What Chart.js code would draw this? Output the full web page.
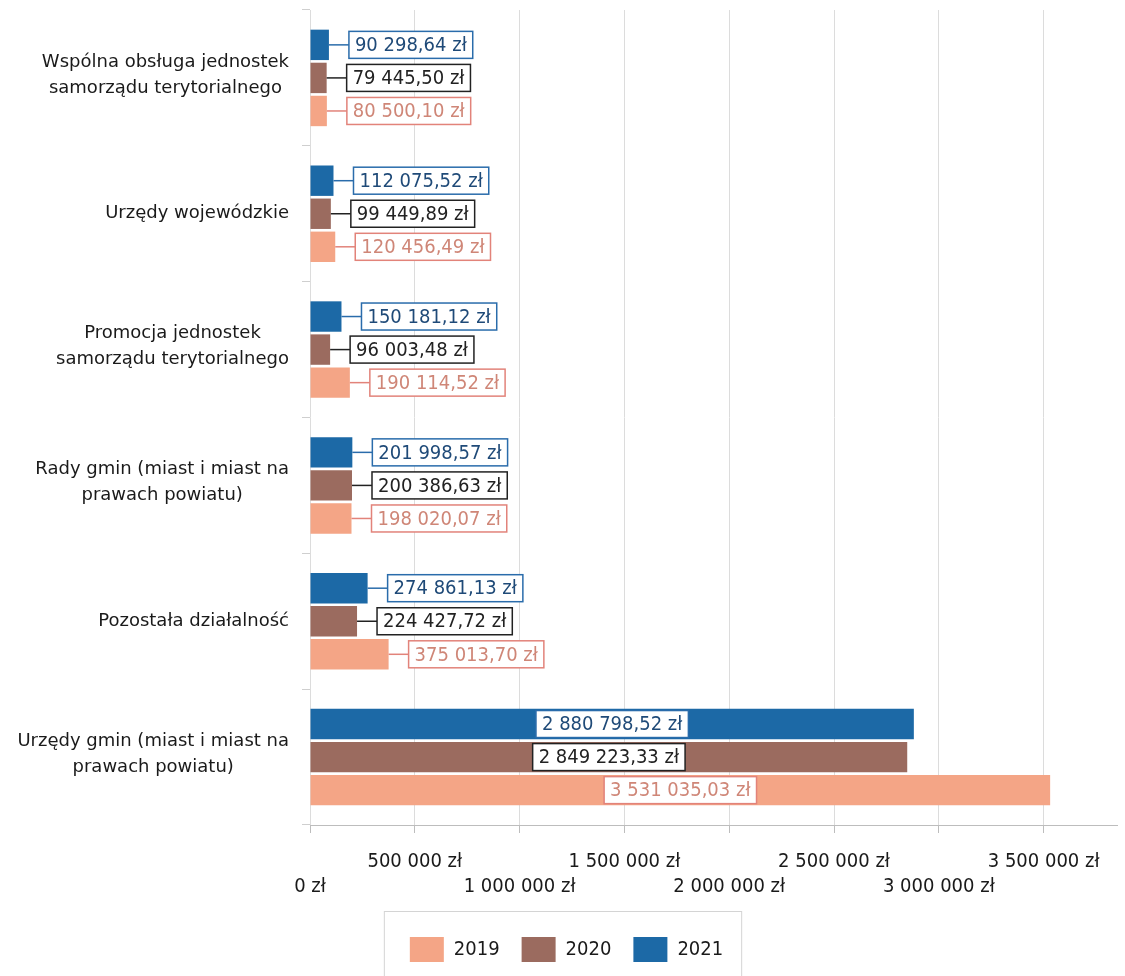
<!DOCTYPE html>
<html>
<head>
<meta charset="utf-8">
<script src="https://cdn.jsdelivr.net/npm/chart.js@4"></script>
<style>
  html, body { margin: 0; background: #fff; }
  #wrap { width: 1125px; height: 976px; }
</style>
</head>
<body>
<div id="wrap"><canvas id="chart"></canvas></div>
<script>
const categories = [
    ["Wspólna obsługa jednostek", "samorządu terytorialnego"],
    ["Urzędy wojewódzkie"],
    ["Promocja jednostek", "samorządu terytorialnego"],
    ["Rady gmin (miast i miast na", "prawach powiatu)"],
    ["Pozostała działalność"],
    ["Urzędy gmin (miast i miast na", "prawach powiatu)"]
];
const values2021 = [90298.64, 112075.52, 150181.12, 201998.57, 274861.13, 2880798.52];
const values2020 = [79445.50, 99449.89, 96003.48, 200386.63, 224427.72, 2849223.33];
const values2019 = [80500.10, 120456.49, 190114.52, 198020.07, 375013.70, 3531035.03];
const xTicks = [0, 500000, 1000000, 1500000, 2000000, 2500000, 3000000, 3500000];

const COND = "'DejaVu Sans Condensed', 'DejaVu Sans', sans-serif";
const REG = "'DejaVu Sans', sans-serif";

// bar colour, label border, label text
const styles = {
    "2021": { bar: "#1c69a6", border: "#2a6cab", text: "#1f4a78" },
    "2020": { bar: "#9b6b5f", border: "#222222", text: "#222222" },
    "2019": { bar: "#f4a586", border: "#e2837a", text: "#cf8677" }
};

function zl(v, dec) {
    const parts = v.toFixed(dec).split(".");
    const intPart = parts[0].replace(/\B(?=(\d{3})+(?!\d))/g, " ");
    return (parts[1] ? intPart + "," + parts[1] : intPart) + " zł";
}

// boxed value labels with leader lines
const valueLabels = {
    id: "valueLabels",
    afterDatasetsDraw(chart) {
        const ctx = chart.ctx;
        ctx.save();
        ctx.font = "20px " + COND;
        ctx.textBaseline = "middle";
        chart.data.datasets.forEach((ds, di) => {
            const st = styles[ds.label];
            chart.getDatasetMeta(di).data.forEach((bar, i) => {
                const txt = zl(ds.data[i], 2);
                const w = ctx.measureText(txt).width + 12;
                const h = 27;
                let bx;
                if (ds.data[i] > 1000000) {
                    bx = (bar.base + bar.x) / 2 - w / 2;
                } else {
                    bx = bar.x + 20;
                    ctx.strokeStyle = st.border;
                    ctx.lineWidth = 1.5;
                    ctx.beginPath();
                    ctx.moveTo(bar.x, bar.y);
                    ctx.lineTo(bx, bar.y);
                    ctx.stroke();
                }
                ctx.fillStyle = "#fff";
                ctx.fillRect(bx, bar.y - h / 2, w, h);
                ctx.strokeStyle = st.border;
                ctx.lineWidth = 1.5;
                ctx.strokeRect(bx, bar.y - h / 2, w, h);
                ctx.fillStyle = st.text;
                ctx.textAlign = "left";
                ctx.fillText(txt, bx + 6, bar.y + 1);
            });
        });
        ctx.restore();
    }
};

// category labels: each line centred, block right-aligned against the axis
const categoryLabels = {
    id: "categoryLabels",
    afterDraw(chart) {
        const ctx = chart.ctx;
        const y = chart.scales.y;
        ctx.save();
        ctx.font = "18px " + REG;
        ctx.fillStyle = "#1a1a1a";
        ctx.textAlign = "center";
        ctx.textBaseline = "middle";
        categories.forEach((lines, i) => {
            const cy = y.getPixelForValue(i);
            const widest = Math.max(...lines.map(l => ctx.measureText(l).width));
            const cx = 289 - widest / 2;
            const lh = 26;
            const top = cy - (lines.length - 1) * lh / 2 - (lines.length > 1 ? 3 : 0);
            lines.forEach((l, k) => ctx.fillText(l, cx, top + k * lh));
        });
        // legend frame
        const boxes = chart.legend.legendHitBoxes;
        if (boxes && boxes.length) {
            const left = Math.min(...boxes.map(b => b.left)) - 26;
            const right = Math.max(...boxes.map(b => b.left + b.width)) + 18;
            const top = Math.min(...boxes.map(b => b.top)) - 26;
            ctx.strokeStyle = "#d4d4d4";
            ctx.lineWidth = 1;
            ctx.strokeRect(left + 0.5, top + 0.5, right - left, chart.height - top + 10);
        }
        ctx.restore();
    }
};

const ctxChart = document.getElementById("chart");
new Chart(ctxChart, {
    type: "bar",
    data: {
        labels: categories.map(c => c.join(" ")),
        datasets: [
            { label: "2021", data: values2021, backgroundColor: styles["2021"].bar },
            { label: "2020", data: values2020, backgroundColor: styles["2020"].bar },
            { label: "2019", data: values2019, backgroundColor: styles["2019"].bar }
        ]
    },
    options: {
        indexAxis: "y",
        responsive: true,
        maintainAspectRatio: false,
        animation: false,
        datasets: { bar: { categoryPercentage: 0.73, barPercentage: 0.92 } },
        layout: { padding: { top: 10, right: 8, left: 16, bottom: 4 } },
        plugins: {
            tooltip: { enabled: false },
            legend: {
                position: "bottom",
                reverse: true,
                labels: {
                    font: { family: COND, size: 20 },
                    color: "#1a1a1a",
                    boxWidth: 34,
                    boxHeight: 25,
                    padding: 22
                }
            }
        },
        scales: {
            x: {
                type: "linear",
                min: 0,
                max: 3850000,
                afterBuildTicks: (scale) => { scale.ticks = xTicks.map(v => ({ value: v })); },
                afterFit: (scale) => { scale.height = 90; },
                grid: { color: "#dcdcdc", tickLength: 8, tickColor: "#bdbdbd" },
                border: { color: "#bdbdbd" },
                ticks: {
                    autoSkip: false,
                    maxRotation: 0,
                    padding: 16,
                    color: "#1a1a1a",
                    font: { family: COND, size: 20, lineHeight: 1.25 },
                    callback: (value, index) => {
                        const t = zl(value, 0);
                        return index % 2 === 0 ? ["", t] : [t, ""];
                    }
                }
            },
            y: {
                afterFit: (scale) => { scale.width = 294; },
                grid: { drawOnChartArea: false, offset: true, tickLength: 8, color: "#cfcfcf" },
                border: { display: false },
                ticks: { display: false }
            }
        }
    },
    plugins: [valueLabels, categoryLabels]
});
</script>
</body>
</html>
